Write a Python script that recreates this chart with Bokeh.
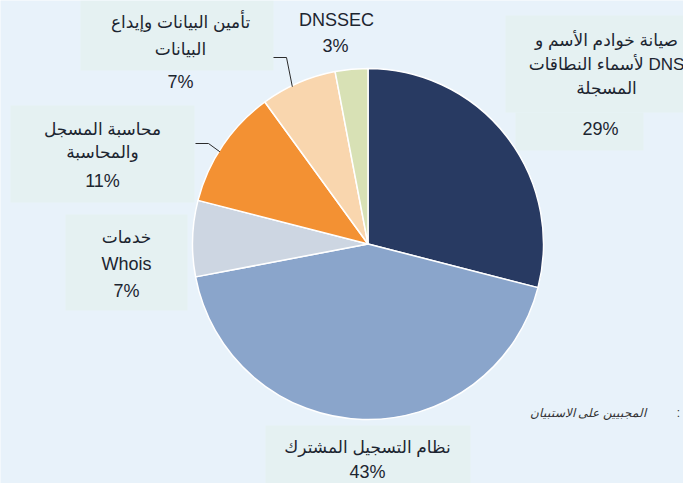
import math
from bokeh.plotting import figure
from bokeh.models import Range1d, ColumnDataSource
from bokeh.core.properties import value
from bokeh.embed import file_html
from bokeh.resources import INLINE

# ---- data ----
categories = [
    "صيانة خوادم الأسم و\nلأسماء النطاقات DNS\nالمسجلة",
    "نظام التسجيل المشترك",
    "خدمات\nWhois",
    "محاسبة المسجل\nوالمحاسبة",
    "تأمين البيانات وإيداع\nالبيانات",
    "DNSSEC",
]
shares = [29, 43, 7, 11, 7, 3]
pct_labels = ["29%", "43%", "7%", "11%", "7%", "3%"]
colors = ["#283a62", "#8aa5cb", "#cdd6e2", "#f39133", "#f9d6ae", "#d8e1b5"]
footnote = "المجبيين على الاستبيان"

# ---- layout (reference pixel coordinates, y measured from top) ----
W, H = 683, 483
CX, CY, R = 367.5, 243.5, 175.5
BG = "#e8f2fa"
BOX = "#e5f1f2"
TXT = "#1c2530"
FONT_AR = "Liberation Sans, DejaVu Sans"
FONT_LAT = "Liberation Sans"

def Y(y):
    return H - y

p = figure(width=W, height=H, output_backend="svg", toolbar_location=None,
           x_range=Range1d(0, W), y_range=Range1d(0, H),
           min_border=0, outline_line_color=None)
p.axis.visible = False
p.grid.visible = False
p.background_fill_color = BG
p.border_fill_color = BG

# label boxes (left, right, top, bottom)
boxes = [(505, 683, 15, 112), (515, 643, 112, 150), (265, 470, 425, 490),
         (65, 187, 214, 310), (10, 194, 105, 202), (80, 273, 0, 70)]
p.quad(left=[b[0] for b in boxes], right=[b[1] for b in boxes],
       top=[Y(b[2]) for b in boxes], bottom=[Y(b[3]) for b in boxes],
       fill_color=BOX, line_color=None)

# pie wedges, clockwise from 12 o'clock
total = float(sum(shares))
starts, ends, mids = [], [], []
acc = 0.0
for v in shares:
    a0 = math.pi / 2 - 2 * math.pi * acc / total
    acc += v
    a1 = math.pi / 2 - 2 * math.pi * acc / total
    starts.append(a0)
    ends.append(a1)
    mids.append((a0 + a1) / 2)
src = ColumnDataSource(dict(start=starts, end=ends, color=colors, cat=categories, share=shares))
p.wedge(x=CX, y=Y(CY), radius=R, start_angle="start", end_angle="end",
        direction="clock", fill_color="color", line_color="white", line_width=1.5,
        source=src)

# leader lines for the two slices whose labels sit away from them
def edge(i, rr=R):
    return CX + rr * math.cos(mids[i] + 0.04), Y(CY) + rr * math.sin(mids[i] + 0.04)

ex, ey = edge(4, R - 1)
p.line([273, 286, ex], [Y(57), Y(57), ey], line_color="#2b2b2b", line_width=1)
ex, ey = edge(3, R - 1)
p.line([195, 208, ex], [Y(143), Y(143), ey], line_color="#2b2b2b", line_width=1)

# label text placement: (x center, [line y...], pct x, pct y)
placement = [
    (606, [40, 64, 88], 600, 128),
    (367, [447], 367, 471),
    (126, [237, 263], 126, 290),
    (102, [129, 152], 102, 180),
    (180, [22, 49], 180, 81),
    (336, [19.5], 335, 45),
]

def is_arabic(s):
    return any("\u0600" <= ch <= "\u06ff" for ch in s)

ar = dict(x=[], y=[], t=[])
la = dict(x=[], y=[], t=[])
for cat, pct, (x, ys, px, py) in zip(categories, pct_labels, placement):
    for line, yy in zip(cat.split("\n"), ys):
        d = ar if is_arabic(line) else la
        d["x"].append(x); d["y"].append(Y(yy)); d["t"].append(line)
    la["x"].append(px); la["y"].append(Y(py)); la["t"].append(pct)

p.text(x=ar["x"], y=ar["y"], text=ar["t"], text_align="center", text_baseline="middle",
       text_font=value(FONT_AR), text_font_size="17px", text_color=TXT)
p.text(x=la["x"], y=la["y"], text=la["t"], text_align="center", text_baseline="middle",
       text_font=value(FONT_LAT), text_font_size="18px", text_color=TXT)

# footnote
p.text(x=[645], y=[Y(412)], text=[footnote], text_align="right", text_baseline="middle",
       text_font=value(FONT_AR), text_font_size="12px", text_font_style="italic",
       text_color="#333333")
p.text(x=[678], y=[Y(412)], text=[":"], text_align="center", text_baseline="middle",
       text_font=value(FONT_LAT), text_font_size="12px", text_color="#333333")

html = file_html(p, INLINE)
html = html.replace("<body>", "<body style=\"background:%s\">" % BG, 1)
open("out.html", "w").write(html)
